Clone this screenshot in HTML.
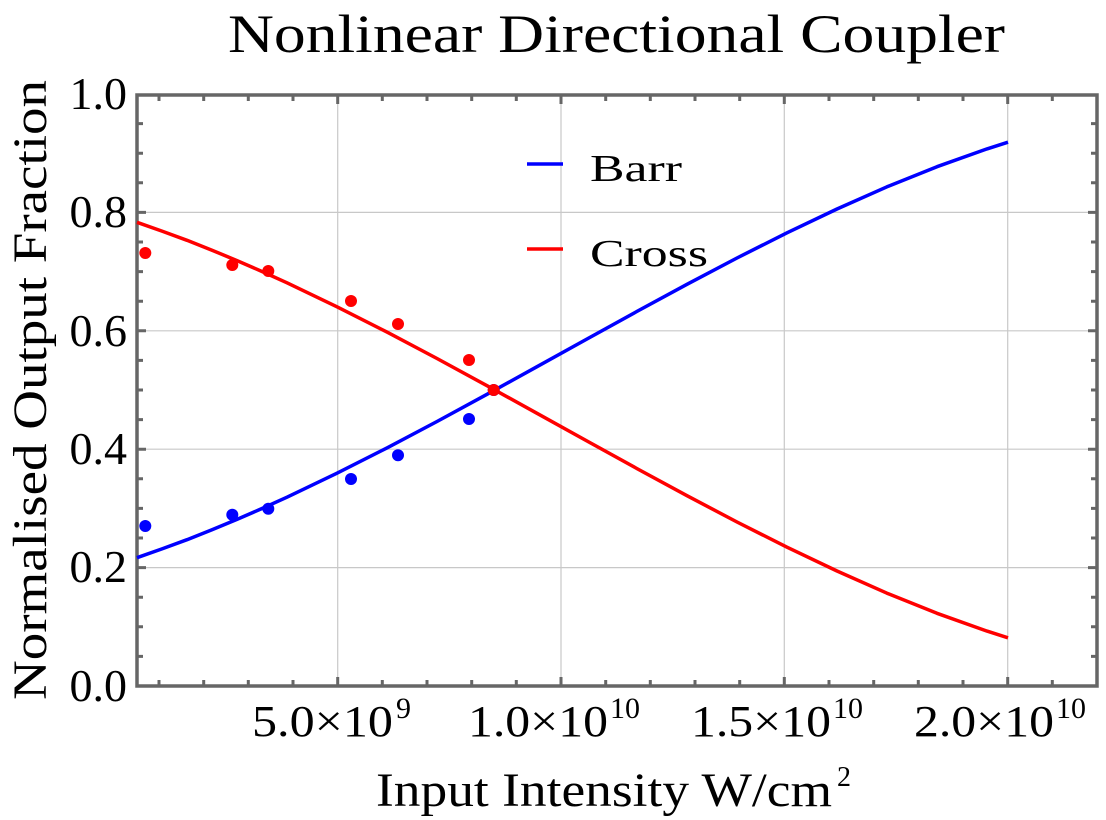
<!DOCTYPE html>
<html><head><meta charset="utf-8"><style>
body{margin:0;background:#fff}
svg{display:block;font-family:"Liberation Serif",serif}
</style></head><body>
<svg width="1106" height="820" viewBox="0 0 1106 820">
<g stroke="#c8c8c8" stroke-width="1.2">
<line x1="337.7" y1="95" x2="337.7" y2="686"/><line x1="561" y1="95" x2="561" y2="686"/>
<line x1="784.3" y1="95" x2="784.3" y2="686"/><line x1="1007.7" y1="95" x2="1007.7" y2="686"/>
<line x1="137" y1="212.4" x2="1097" y2="212.4"/><line x1="137" y1="330.8" x2="1097" y2="330.8"/>
<line x1="137" y1="449.2" x2="1097" y2="449.2"/><line x1="137" y1="567.6" x2="1097" y2="567.6"/>
</g>
<g stroke="#666" stroke-width="3">
<path d="M159,686v-6M203.7,686v-6M248.3,686v-6M293,686v-6M337.7,686v-9M382.3,686v-6M427,686v-6M471.7,686v-6M516.3,686v-6M561,686v-9M605.7,686v-6M650.3,686v-6M695,686v-6M739.7,686v-6M784.3,686v-9M829,686v-6M873.7,686v-6M918.3,686v-6M963,686v-6M1007.7,686v-9M1052.3,686v-6"/>
<path d="M159,95v6M203.7,95v6M248.3,95v6M293,95v6M337.7,95v9M382.3,95v6M427,95v6M471.7,95v6M516.3,95v6M561,95v9M605.7,95v6M650.3,95v6M695,95v6M739.7,95v6M784.3,95v9M829,95v6M873.7,95v6M918.3,95v6M963,95v6M1007.7,95v9M1052.3,95v6"/>
<path d="M137,656.4h6M137,626.8h6M137,597.2h6M137,567.6h9M137,538h6M137,508.4h6M137,478.8h6M137,449.2h9M137,419.6h6M137,390h6M137,360.4h6M137,330.8h9M137,301.2h6M137,271.6h6M137,242h6M137,212.4h9M137,182.8h6M137,153.2h6M137,123.6h6"/>
<path d="M1097,656.4h-6M1097,626.8h-6M1097,597.2h-6M1097,567.6h-9M1097,538h-6M1097,508.4h-6M1097,478.8h-6M1097,449.2h-9M1097,419.6h-6M1097,390h-6M1097,360.4h-6M1097,330.8h-9M1097,301.2h-6M1097,271.6h-6M1097,242h-6M1097,212.4h-9M1097,182.8h-6M1097,153.2h-6M1097,123.6h-6"/>
</g>
<rect x="137" y="95" width="960" height="591" fill="none" stroke="#666" stroke-width="3.5"/>
<polyline fill="none" stroke="#00f" stroke-width="3.5" stroke-linejoin="round" points="137,557.7 162,548.9 187,539.7 212,529.8 237,519.4 262,508.5 287,497.2 337,473.2 387,447.9 437,421.5 487,394.3 537,366.7 587,339 637,311.4 687,284.3 737,258 787,232.8 837,209 887,186.8 937,166.7 987,148.9 1008,142.2"/>
<polyline fill="none" stroke="#f00" stroke-width="3.5" stroke-linejoin="round" points="137,222.3 162,231.1 187,240.3 212,250.2 237,260.6 262,271.5 287,282.8 337,306.8 387,332.1 437,358.5 487,385.7 537,413.3 587,441 637,468.6 687,495.7 737,522 787,547.2 837,571 887,593.2 937,613.3 987,631.1 1008,637.8"/>
<g fill="#00f"><circle cx="145.3" cy="526" r="6"/><circle cx="232.3" cy="514.7" r="6"/><circle cx="268.3" cy="508.7" r="6"/><circle cx="351" cy="479" r="6"/><circle cx="398" cy="455.3" r="6"/><circle cx="469" cy="419" r="6"/><circle cx="493.7" cy="390" r="6"/></g>
<g fill="#f00"><circle cx="145.3" cy="253" r="6"/><circle cx="232.3" cy="265" r="6"/><circle cx="268.3" cy="271" r="6"/><circle cx="351" cy="301" r="6"/><circle cx="398" cy="324" r="6"/><circle cx="469" cy="360" r="6"/><circle cx="493.7" cy="390" r="6"/></g>
<line x1="527" y1="164" x2="563" y2="164" stroke="#00f" stroke-width="3.5"/>
<line x1="527" y1="249" x2="563" y2="249" stroke="#f00" stroke-width="3.5"/>
<g fill="#000">
<text x="590" y="181" font-size="38" textLength="92" lengthAdjust="spacingAndGlyphs">Barr</text>
<text x="590" y="266" font-size="38" textLength="118" lengthAdjust="spacingAndGlyphs">Cross</text>
<text x="228" y="52" font-size="54" textLength="777" lengthAdjust="spacingAndGlyphs">Nonlinear Directional Coupler</text>
<text x="376" y="806" font-size="48" textLength="456" lengthAdjust="spacingAndGlyphs">Input Intensity W/cm</text>
<text x="837" y="786" font-size="28">2</text>
<text transform="translate(46,390) rotate(-90)" x="-310" y="0" font-size="48" textLength="620" lengthAdjust="spacingAndGlyphs">Normalised Output Fraction</text>
<g text-anchor="end" font-size="46"><text x="127" y="109">1.0</text><text x="127" y="227">0.8</text><text x="127" y="346">0.6</text><text x="127" y="464">0.4</text><text x="127" y="582">0.2</text><text x="127" y="701">0.0</text></g>
<g font-size="44">
<text x="252" y="736" textLength="141" lengthAdjust="spacingAndGlyphs">5.0×10</text><text x="396" y="718" font-size="30">9</text>
<text x="468" y="736" textLength="140" lengthAdjust="spacingAndGlyphs">1.0×10</text><text x="610" y="718" font-size="30">10</text>
<text x="691" y="736" textLength="140" lengthAdjust="spacingAndGlyphs">1.5×10</text><text x="833" y="718" font-size="30">10</text>
<text x="914" y="736" textLength="140" lengthAdjust="spacingAndGlyphs">2.0×10</text><text x="1056" y="718" font-size="30">10</text>
</g></g>
</svg>
</body></html>
